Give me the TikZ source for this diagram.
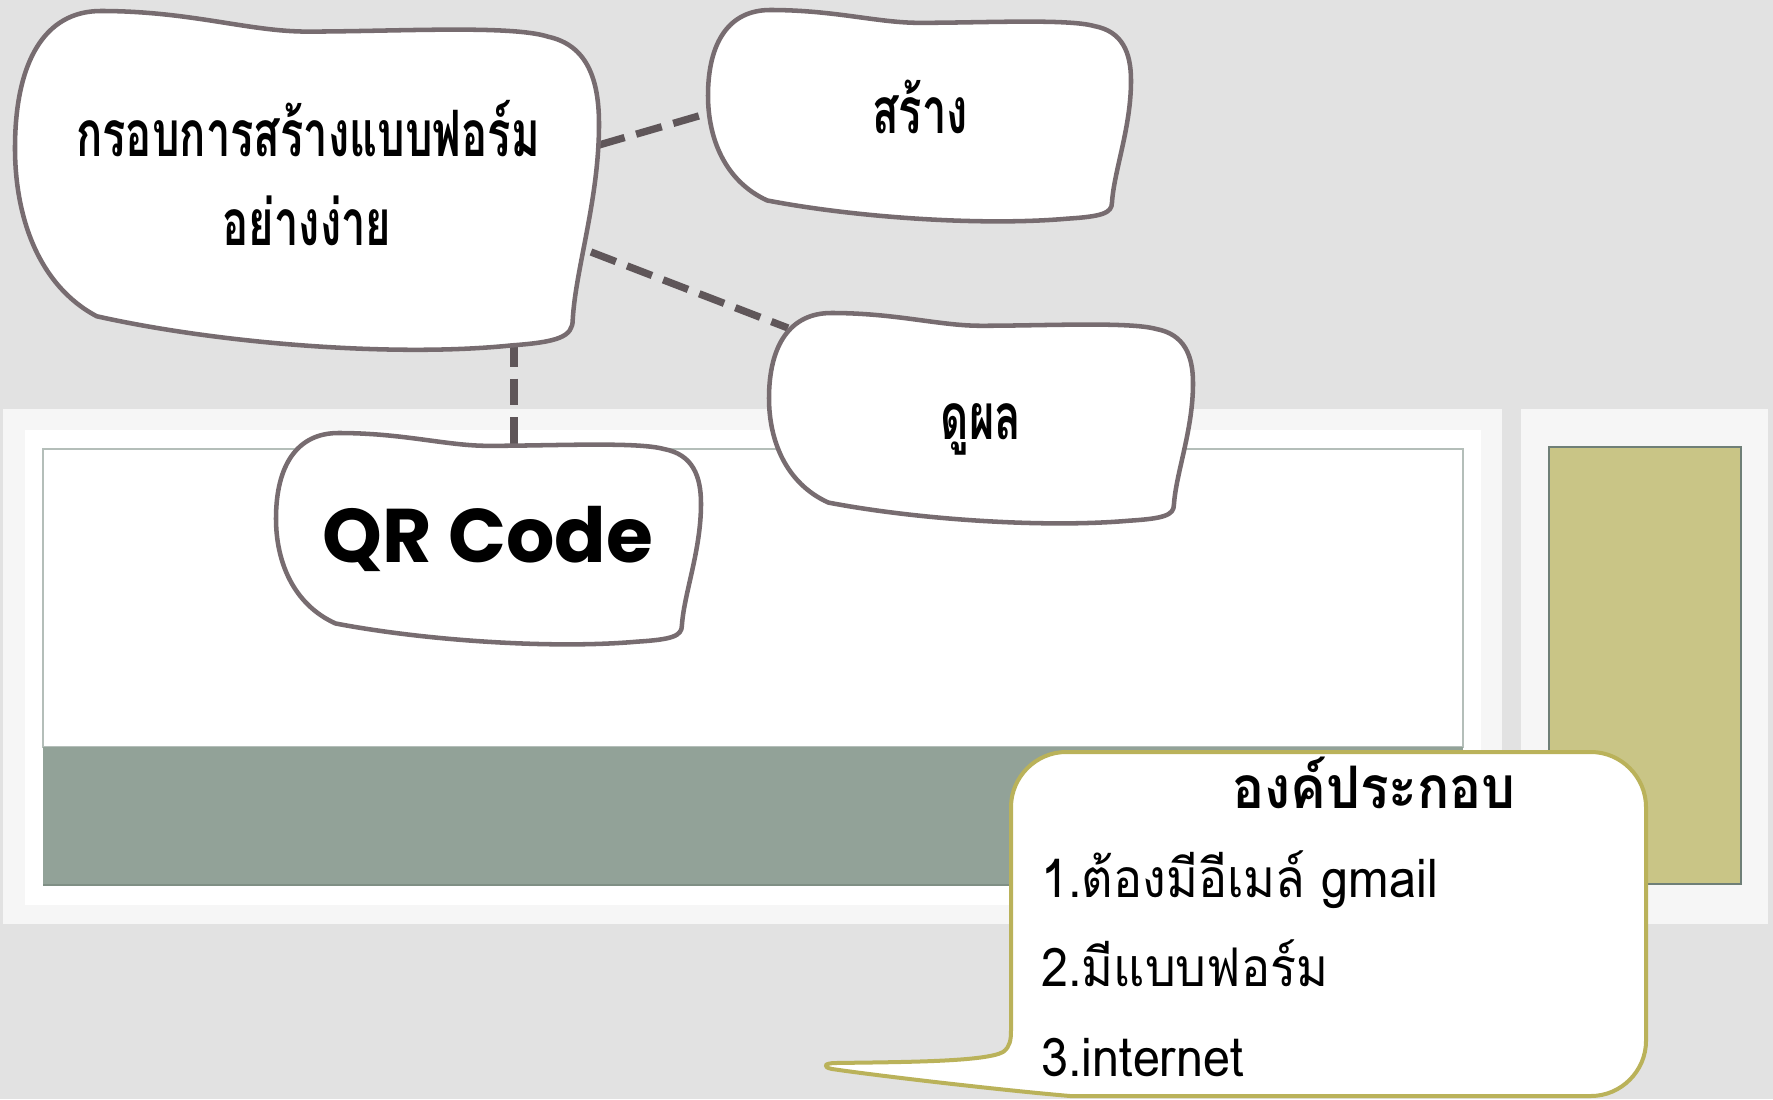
\documentclass[tikz,border=0pt]{standalone}
\usepackage{fontspec}
\newfontfamily\thaifont[Script=Thai,FakeStretch=0.68]{Loma}
\newfontfamily\thaiitem[Script=Thai,FakeStretch=0.91]{Loma}
\newfontfamily\qrfont{Poppins}
\definecolor{bggray}{HTML}{E2E2E2}
\definecolor{framegray}{HTML}{F6F6F6}
\definecolor{rectline}{HTML}{B4BEB9}
\definecolor{bandgreen}{HTML}{92A298}
\definecolor{bandline}{HTML}{7F8F85}
\definecolor{blockolive}{HTML}{C9C586}
\definecolor{oliveline}{HTML}{6F7F77}
\definecolor{blobgray}{HTML}{776C70}
\definecolor{linkgray}{HTML}{5F5659}
\definecolor{calloutline}{HTML}{BAB25A}
\tikzset{
    blobline/.style={draw=blobgray, line width=3.4pt, fill=white, line join=round},
    link/.style={draw=linkgray, line width=5.5pt, dash pattern=on 20pt off 9pt},
    blobtext/.style={inner sep=0.75pt, anchor=base, font={\thaifont\bfseries\fontsize{48}{58}\selectfont}},
    qrtext/.style={inner sep=0.75pt, anchor=base, font={\qrfont\bfseries\fontsize{57}{66}\selectfont}},
    callout/.style={draw=calloutline, line width=3pt, fill=white, line join=round},
    headtext/.style={inner sep=0.75pt, anchor=base, font={\thaiitem\bfseries\fontsize{44}{52}\selectfont}},
    itemtext/.style={inner sep=0.75pt, anchor=base west, font={\thaiitem\fontsize{40}{48}\selectfont}}
}
% wavy hand drawn box: x, y, width, height
\newcommand{\drawblob}[4]{%
    \begin{scope}[shift={(#1,#2)},xscale=#3,yscale=#4]
    \draw[blobline] (0.147,0) .. controls (0.3,0) and (0.4,0.06) .. (0.5,0.06) .. controls (0.65,0.06) and (0.85,0.04) .. (0.913,0.075) .. controls (0.98,0.1) and (1,0.2) .. (1,0.33) .. controls (1,0.55) and (0.96,0.75) .. (0.955,0.9) .. controls (0.955,0.95) and (0.93,0.965) .. (0.85,0.975) .. controls (0.65,1.01) and (0.35,0.97) .. (0.14,0.89) .. controls (0.04,0.8) and (0,0.6) .. (0,0.4) .. controls (0,0.15) and (0.05,0) .. (0.147,0) -- cycle;
    \end{scope}}
\begin{document}
\begin{tikzpicture}[x=0.75pt,y=0.75pt,yscale=-1,xscale=1]
    \useasboundingbox (0,0) rectangle (1773,1099);
    % Background
    \fill[bggray] (0,0) rectangle (1773,1099);
    % Slide frames
    \fill[framegray] (3,409) rectangle (1502,924);
    \fill[white] (25,430) rectangle (1481,905);
    \draw[draw=rectline, line width=0.8pt, fill=white] (43,449) rectangle (1463,747);
    \fill[bandgreen] (43,747) rectangle (1463,885);
    \draw[bandline, line width=1pt] (43,885) -- (1463,885);
    \fill[framegray] (1521,409) rectangle (1768,924);
    \draw[draw=oliveline, line width=0.8pt, fill=blockolive] (1549,447) rectangle (1741,884);
    % Connector ends
    \coordinate (formE) at (599,145);
    \coordinate (formSE) at (591,252);
    \coordinate (formS) at (514,340);
    \coordinate (createW) at (709,113);
    \coordinate (resultNW) at (788,328);
    \coordinate (qrN) at (514,446);
    % Dashed links
    \draw[link] (formE) -- (createW);
    \draw[link] (formSE) -- (resultNW);
    \draw[link] (formS) -- (qrN);
    % Wavy boxes
    \drawblob{15}{11}{584}{343}
    \drawblob{708}{10}{423}{214}
    \drawblob{769}{313}{424}{213}
    \drawblob{276}{433}{425}{214}
    % Text Node
    \node[blobtext] (formtitle) at (308,156) {กรอบการสร้างแบบฟอร์ม};
    % Text Node
    \node[blobtext] (formsub) at (307,245) {อย่างง่าย};
    % Text Node
    \node[blobtext] (create) at (920,133) {สร้าง};
    % Text Node
    \node[blobtext] (result) at (981,439) {ดูผล};
    % Text Node
    \node[qrtext] (qr) at (488,562) {QR Code};
    % Callout
    \draw[callout] (1066,752) -- (1591,752) .. controls (1621,752) and (1646,777) .. (1646,807) -- (1646,1041) .. controls (1646,1071) and (1621,1096) .. (1591,1096) -- (1070,1096) .. controls (1000,1090) and (880,1076) .. (832,1069) .. controls (822,1067) and (824,1063) .. (836,1063) .. controls (900,1062) and (985,1062) .. (1003,1052) .. controls (1010,1047) and (1011,1040) .. (1011,1030) -- (1011,807) .. controls (1011,777) and (1036,752) .. (1066,752) -- cycle;
    % Text Node
    \node[headtext] (parts) at (1374,808) {องค์ประกอบ};
    % Text Node
    \node[itemtext] (itemone) at (1040,897) {1.ต้องมีอีเมล์ gmail};
    % Text Node
    \node[itemtext] (itemtwo) at (1040,986) {2.มีแบบฟอร์ม};
    % Text Node
    \node[itemtext] (itemthree) at (1040,1076) {3.internet};
\end{tikzpicture}
\end{document}
